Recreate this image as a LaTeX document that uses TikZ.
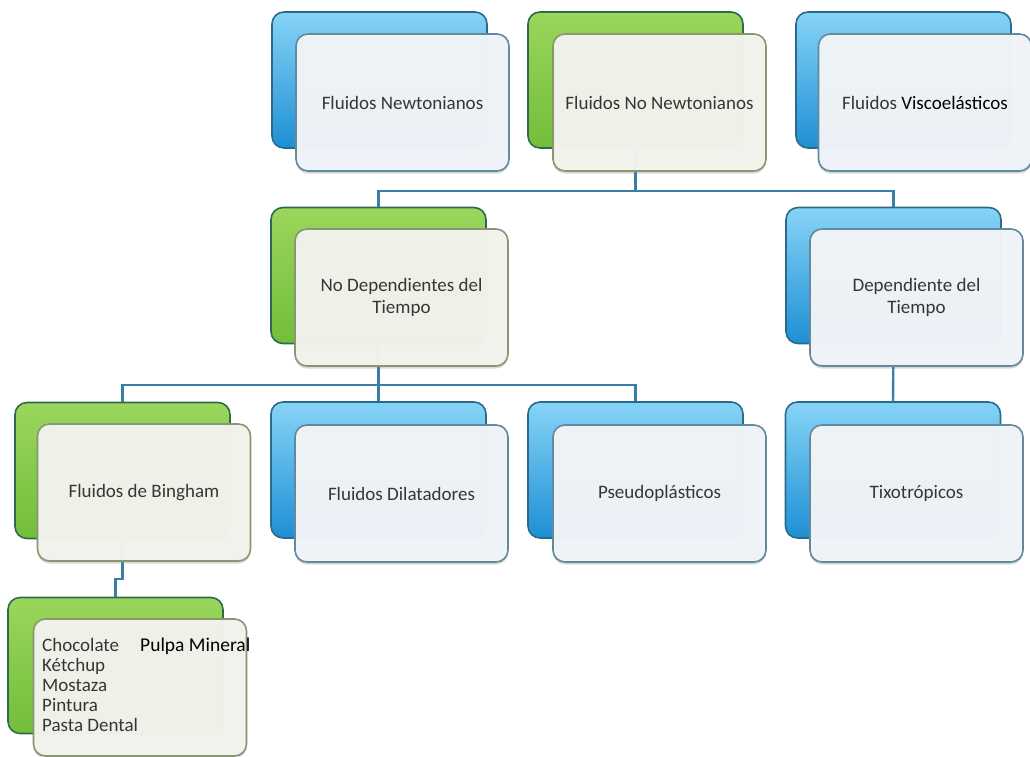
\documentclass[tikz,border=0pt]{standalone}
\usepackage{fontspec}
\setmainfont{Carlito}
\usetikzlibrary{shadows}
\definecolor{bluetop}{HTML}{86D4F6}
\definecolor{bluebot}{HTML}{1E8FD5}
\definecolor{blueedge}{HTML}{2C6A8C}
\definecolor{greentop}{HTML}{9AD65C}
\definecolor{greenbot}{HTML}{72BE3A}
\definecolor{greenedge}{HTML}{2F6A4C}
\definecolor{bluefront}{HTML}{F0F4F8}
\definecolor{bluefrontedge}{HTML}{62899E}
\definecolor{greenfront}{HTML}{F1F3EC}
\definecolor{greenfrontedge}{HTML}{899670}
\definecolor{connc}{HTML}{3A7EA8}
\definecolor{txt}{HTML}{363636}
\begin{document}
\begin{tikzpicture}[x=1pt,y=-1pt,
  backbox/.style={rounded corners=12pt, minimum width=215pt, minimum height=136pt, line width=1.6pt, inner sep=0pt},
  blueback/.style={backbox, draw=blueedge, top color=bluetop, bottom color=bluebot},
  greenback/.style={backbox, draw=greenedge, top color=greentop, bottom color=greenbot},
  frontbox/.style={rounded corners=12pt, minimum width=213pt, minimum height=137pt, line width=1.6pt, inner sep=2pt,
     fill opacity=0.975, text opacity=1, align=center, text=txt, font=\fontsize{19}{22}\selectfont,
     drop shadow={opacity=0.3, shadow xshift=0pt, shadow yshift=-2.5pt}},
  bluefrontbox/.style={frontbox, draw=bluefrontedge, fill=bluefront},
  greenfrontbox/.style={frontbox, draw=greenfrontedge, fill=greenfront},
  conn/.style={draw=connc, line width=2.4pt}
]
\useasboundingbox[fill=white] (0,0) rectangle (1030,756);

% back boxes
\node[blueback]  (newB) at (379.5,80) {};
\node[greenback] (nnB)  at (635.5,80) {};
\node[blueback]  (visB) at (903.5,80) {};
\node[greenback] (ndB)  at (378.5,275.5) {};
\node[blueback]  (depB) at (893.5,275.5) {};
\node[greenback] (binB) at (122.5,470.5) {};
\node[blueback]  (dilB) at (378.5,470) {};
\node[blueback]  (pseB) at (635.5,470) {};
\node[blueback]  (tixB) at (893,470) {};
\node[greenback] (botB) at (115.5,665.5) {};

% connectors
\coordinate (h1) at (0,191);
\coordinate (h2) at (0,385);
\coordinate (h3) at (0,579);
\draw[conn] (nnB.south) -- (nnB.south |- h1);
\draw[conn] (ndB.north) -- (ndB.north |- h1) -- (depB.north |- h1) -- (depB.north);
\draw[conn] (ndB.south) -- (ndB.south |- h2);
\draw[conn] (binB.north) -- (binB.north |- h2) -- (pseB.north |- h2) -- (pseB.north);
\draw[conn] (dilB.north) -- (dilB.north |- h2);
\draw[conn] (depB.south) -- (tixB.north);
\draw[conn] (binB.south) -- (binB.south |- h3) -| (botB.north);

% front boxes
\node[bluefrontbox]  (newF) at (402.5,102.5) {Fluidos Newtonianos};
\node[greenfrontbox] (nnF)  at (659.5,102.5) {Fluidos No Newtonianos};
\node[bluefrontbox]  (visF) at (925,102.5) {Fluidos {\color{black}Viscoelásticos}};
\node[greenfrontbox] (ndF)  at (401.5,297.5) {No Dependientes del\\Tiempo};
\node[bluefrontbox]  (depF) at (916.5,297.5) {Dependiente del\\Tiempo};
\node[greenfrontbox] (binF) at (144,492.5) {Fluidos de Bingham};
\node[bluefrontbox]  (dilF) at (401.5,493.5) {Fluidos Dilatadores};
\node[bluefrontbox]  (pseF) at (659.5,493.5) {Pseudoplásticos};
\node[bluefrontbox]  (tixF) at (916.5,493.5) {Tixotrópicos};
\node[greenfrontbox] (botF) at (140,687.5) {};

% list text
\node[anchor=north west, inner sep=0pt, align=left, text=txt, font=\fontsize{19}{20}\selectfont] (lst) at (42,638)
  {Chocolate\\Kétchup\\Mostaza\\Pintura\\Pasta Dental};
\node[anchor=base west, inner sep=0pt, text=black, font=\fontsize{19.5}{20}\selectfont] (pulpa) at (140,651) {Pulpa Mineral};
\end{tikzpicture}
\end{document}
